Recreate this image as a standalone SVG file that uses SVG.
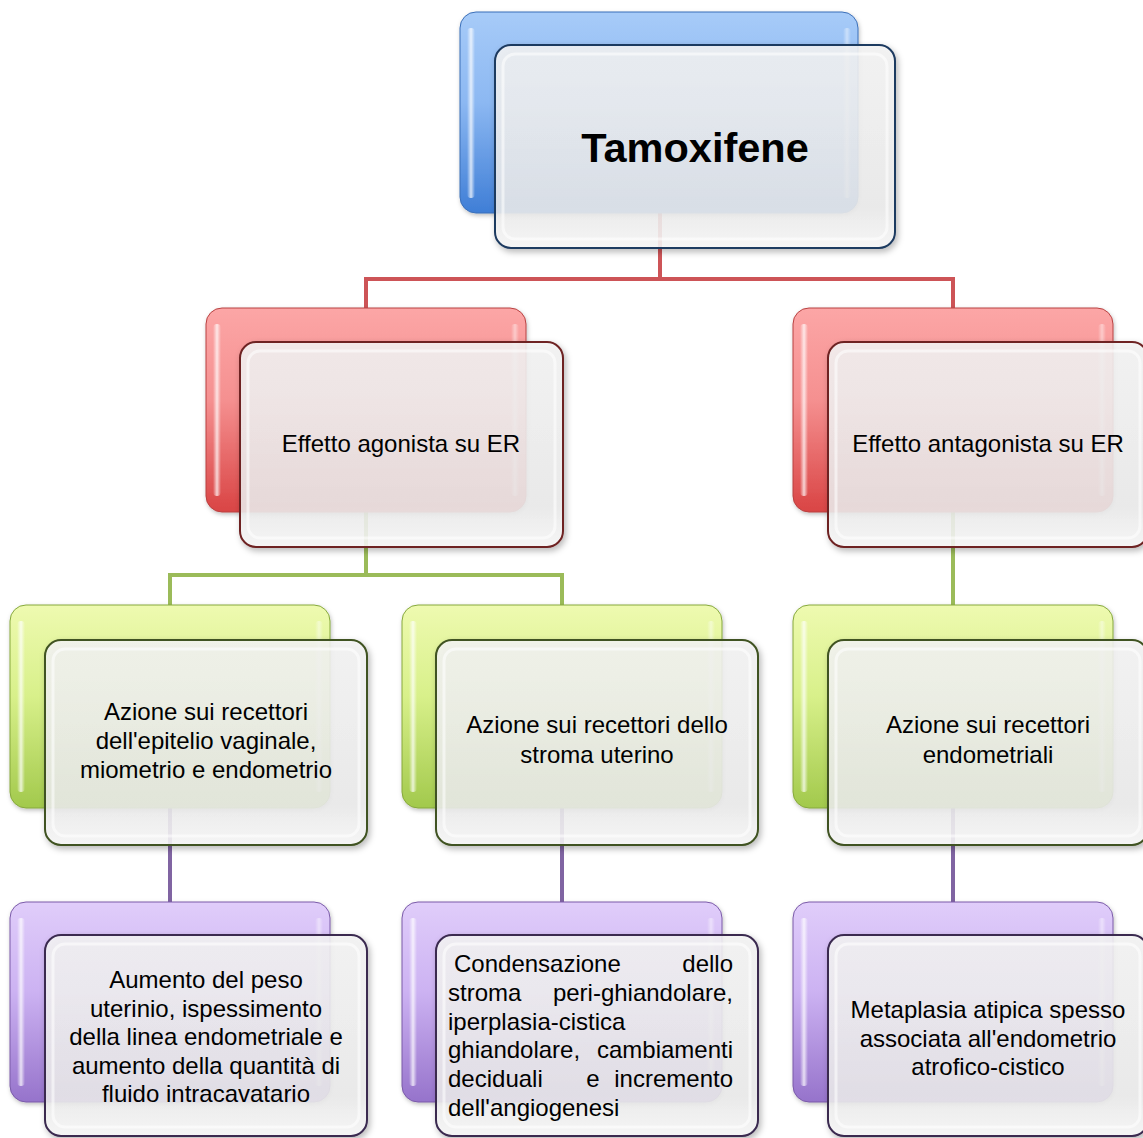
<svg xmlns="http://www.w3.org/2000/svg" width="1143" height="1138" viewBox="0 0 1143 1138">
<defs>
<style>
.conn{fill:none;stroke-width:4;stroke-linecap:butt;stroke-linejoin:miter}
.back{stroke-width:1}
.front{fill:url(#gFront);fill-opacity:0.87;stroke-width:2;filter:url(#shadow)}
.inner{fill:none;stroke:#ffffff;stroke-opacity:0.55;stroke-width:3}
.hl{fill:url(#gHL)}
.txt{font-family:"Liberation Sans",Arial,sans-serif;font-size:24px;fill:#000}
.title{font-family:"Liberation Sans",Arial,sans-serif;font-size:41.5px;font-weight:bold;fill:#000}
</style>
<filter id="shadow" x="-10%" y="-10%" width="125%" height="130%">
<feDropShadow dx="2" dy="3" stdDeviation="3" flood-color="#000" flood-opacity="0.3"/>
</filter>
<filter id="shadowB" x="-10%" y="-10%" width="125%" height="130%">
<feDropShadow dx="1" dy="2" stdDeviation="2" flood-color="#000" flood-opacity="0.25"/>
</filter>
<linearGradient id="gFront" x1="0" y1="0" x2="0" y2="1">
<stop offset="0" stop-color="#f4f4f4"/>
<stop offset="0.8" stop-color="#ececec"/>
<stop offset="1" stop-color="#f8f8f8"/>
</linearGradient>
<linearGradient id="gHL" x1="0" y1="0" x2="1" y2="0">
<stop offset="0" stop-color="#fff" stop-opacity="0"/>
<stop offset="0.5" stop-color="#fff" stop-opacity="0.75"/>
<stop offset="1" stop-color="#fff" stop-opacity="0"/>
</linearGradient>
<linearGradient id="gBlue" x1="0" y1="0" x2="0" y2="1">
<stop offset="0" stop-color="#a7cbf8"/>
<stop offset="0.45" stop-color="#8cb8f2"/>
<stop offset="1" stop-color="#3f7ed6"/>
</linearGradient>
<linearGradient id="gRed" x1="0" y1="0" x2="0" y2="1">
<stop offset="0" stop-color="#fca6a6"/>
<stop offset="0.45" stop-color="#f59090"/>
<stop offset="1" stop-color="#d94444"/>
</linearGradient>
<linearGradient id="gGreen" x1="0" y1="0" x2="0" y2="1">
<stop offset="0" stop-color="#eefab0"/>
<stop offset="0.45" stop-color="#d8f08a"/>
<stop offset="1" stop-color="#a2c94c"/>
</linearGradient>
<linearGradient id="gPurple" x1="0" y1="0" x2="0" y2="1">
<stop offset="0" stop-color="#e0cdfa"/>
<stop offset="0.45" stop-color="#ccb2f2"/>
<stop offset="1" stop-color="#9673cb"/>
</linearGradient>
</defs>
<rect width="1143" height="1138" fill="#ffffff"/>

<g id="connectors">
<path class="conn" stroke="#cd5457" d="M660 213 V279 M366 308 V279 H953 V308"/>
<path class="conn" stroke="#9bbb59" d="M366 512 V575 M170 605 V575 H562 V605 M953 512 V605"/>
<path class="conn" stroke="#8064a2" d="M170 808 V902 M562 808 V902 M953 808 V902"/>
</g>

<g id="n-top">
<rect class="back" x="460" y="12" width="398" height="201" rx="16" fill="url(#gBlue)" stroke="#3b6fb8" filter="url(#shadowB)"/>
<rect class="hl" x="467" y="28" width="8" height="170" rx="4"/>
<rect class="hl" x="843" y="28" width="8" height="170" rx="4" opacity="0.6"/>
<rect class="front" x="495" y="45" width="400" height="203" rx="16" stroke="#1f3a60"/>
<rect class="inner" x="503" y="54" width="384" height="185" rx="12"/>
<text class="title" x="695" y="162" text-anchor="middle">Tamoxifene</text>
</g>

<g id="n-agonist">
<rect class="back" x="206" y="308" width="320" height="204" rx="16" fill="url(#gRed)" stroke="#b84040" filter="url(#shadowB)"/>
<rect class="hl" x="213" y="324" width="8" height="172" rx="4"/>
<rect class="hl" x="511" y="324" width="8" height="172" rx="4" opacity="0.6"/>
<rect class="front" x="240" y="342" width="323" height="205" rx="16" stroke="#6e2424"/>
<rect class="inner" x="248" y="351" width="307" height="187" rx="12"/>
<text class="txt" x="401" y="452" text-anchor="middle">Effetto agonista su ER</text>
</g>

<g id="n-antagonist">
<rect class="back" x="793" y="308" width="320" height="204" rx="16" fill="url(#gRed)" stroke="#b84040" filter="url(#shadowB)"/>
<rect class="hl" x="800" y="324" width="8" height="172" rx="4"/>
<rect class="hl" x="1098" y="324" width="8" height="172" rx="4" opacity="0.6"/>
<rect class="front" x="828" y="342" width="320" height="205" rx="16" stroke="#6e2424"/>
<rect class="inner" x="836" y="351" width="304" height="187" rx="12"/>
<text class="txt" x="988" y="452" text-anchor="middle">Effetto antagonista su ER</text>
</g>

<g id="n-vaginal">
<rect class="back" x="10" y="605" width="320" height="203" rx="16" fill="url(#gGreen)" stroke="#86a83c" filter="url(#shadowB)"/>
<rect class="hl" x="17" y="621" width="8" height="171" rx="4"/>
<rect class="hl" x="315" y="621" width="8" height="171" rx="4" opacity="0.6"/>
<rect class="front" x="45" y="640" width="322" height="205" rx="16" stroke="#3f5220"/>
<rect class="inner" x="53" y="649" width="306" height="187" rx="12"/>
<text class="txt" text-anchor="middle"><tspan x="206" y="720">Azione sui recettori</tspan><tspan x="206" y="749">dell'epitelio vaginale,</tspan><tspan x="206" y="778">miometrio e endometrio</tspan></text>
</g>

<g id="n-stroma">
<rect class="back" x="402" y="605" width="320" height="203" rx="16" fill="url(#gGreen)" stroke="#86a83c" filter="url(#shadowB)"/>
<rect class="hl" x="409" y="621" width="8" height="171" rx="4"/>
<rect class="hl" x="707" y="621" width="8" height="171" rx="4" opacity="0.6"/>
<rect class="front" x="436" y="640" width="322" height="205" rx="16" stroke="#3f5220"/>
<rect class="inner" x="444" y="649" width="306" height="187" rx="12"/>
<text class="txt" text-anchor="middle"><tspan x="597" y="733">Azione sui recettori dello</tspan><tspan x="597" y="763">stroma uterino</tspan></text>
</g>

<g id="n-endometrial">
<rect class="back" x="793" y="605" width="320" height="203" rx="16" fill="url(#gGreen)" stroke="#86a83c" filter="url(#shadowB)"/>
<rect class="hl" x="800" y="621" width="8" height="171" rx="4"/>
<rect class="hl" x="1098" y="621" width="8" height="171" rx="4" opacity="0.6"/>
<rect class="front" x="828" y="640" width="320" height="205" rx="16" stroke="#3f5220"/>
<rect class="inner" x="836" y="649" width="304" height="187" rx="12"/>
<text class="txt" text-anchor="middle"><tspan x="988" y="733">Azione sui recettori</tspan><tspan x="988" y="763">endometriali</tspan></text>
</g>

<g id="n-uterine-weight">
<rect class="back" x="10" y="902" width="320" height="200" rx="16" fill="url(#gPurple)" stroke="#7a5aa8" filter="url(#shadowB)"/>
<rect class="hl" x="17" y="918" width="8" height="168" rx="4"/>
<rect class="hl" x="315" y="918" width="8" height="168" rx="4" opacity="0.6"/>
<rect class="front" x="45" y="935" width="322" height="201" rx="16" stroke="#3a2a50"/>
<rect class="inner" x="53" y="944" width="306" height="183" rx="12"/>
<text class="txt" text-anchor="middle"><tspan x="206" y="988">Aumento del peso</tspan><tspan x="206" y="1016.5">uterinio, ispessimento</tspan><tspan x="206" y="1045">della linea endometriale e</tspan><tspan x="206" y="1073.5">aumento della quantità di</tspan><tspan x="206" y="1102">fluido intracavatario</tspan></text>
</g>

<g id="n-condensation">
<rect class="back" x="402" y="902" width="320" height="200" rx="16" fill="url(#gPurple)" stroke="#7a5aa8" filter="url(#shadowB)"/>
<rect class="hl" x="409" y="918" width="8" height="168" rx="4"/>
<rect class="hl" x="707" y="918" width="8" height="168" rx="4" opacity="0.6"/>
<rect class="front" x="436" y="935" width="322" height="201" rx="16" stroke="#3a2a50"/>
<rect class="inner" x="444" y="944" width="306" height="183" rx="12"/>
<text class="txt"><tspan x="454" y="972">Condensazione</tspan><tspan x="733" y="972" text-anchor="end">dello</tspan><tspan x="448" y="1001">stroma</tspan><tspan x="733" y="1001" text-anchor="end">peri-ghiandolare,</tspan><tspan x="448" y="1030">iperplasia-cistica</tspan><tspan x="448" y="1058">ghiandolare,</tspan><tspan x="733" y="1058" text-anchor="end">cambiamenti</tspan><tspan x="448" y="1087">deciduali</tspan><tspan x="593" y="1087" text-anchor="middle">e</tspan><tspan x="733" y="1087" text-anchor="end">incremento</tspan><tspan x="448" y="1116">dell'angiogenesi</tspan></text>
</g>

<g id="n-metaplasia">
<rect class="back" x="793" y="902" width="320" height="200" rx="16" fill="url(#gPurple)" stroke="#7a5aa8" filter="url(#shadowB)"/>
<rect class="hl" x="800" y="918" width="8" height="168" rx="4"/>
<rect class="hl" x="1098" y="918" width="8" height="168" rx="4" opacity="0.6"/>
<rect class="front" x="828" y="935" width="320" height="201" rx="16" stroke="#3a2a50"/>
<rect class="inner" x="836" y="944" width="304" height="183" rx="12"/>
<text class="txt" text-anchor="middle"><tspan x="988" y="1018">Metaplasia atipica spesso</tspan><tspan x="988" y="1047">associata all'endometrio</tspan><tspan x="988" y="1075">atrofico-cistico</tspan></text>
</g>
</svg>
